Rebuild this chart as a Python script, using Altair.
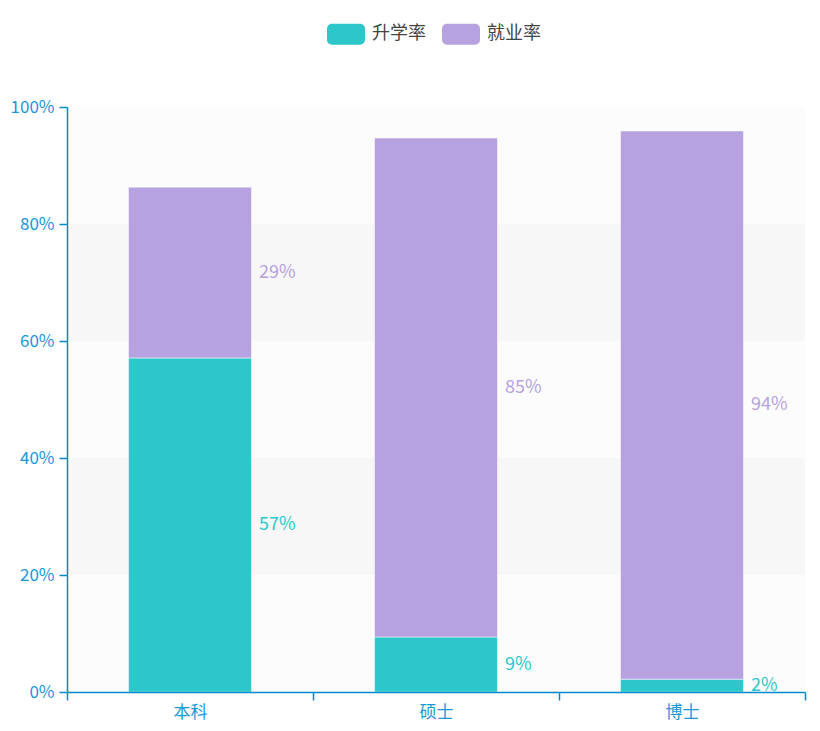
import altair as alt
import pandas as pd

categories = ["本科", "硕士", "博士"]
series = ["升学率", "就业率"]
further_study = [57.1, 9.4, 2.2]
employment = [29.2, 85.3, 93.7]
colors = ["#2ec7c9", "#b6a2de"]
band_starts = [0, 20, 40, 60, 80]
band_colors = ["#fcfcfc", "#f7f7f7", "#fcfcfc", "#f7f7f7", "#fcfcfc"]
y_ticks = [0, 20, 40, 60, 80, 100]

rows = []
for i, c in enumerate(categories):
    rows.append({"cat": c, "series": series[0], "value": further_study[i], "order": 0})
    rows.append({"cat": c, "series": series[1], "value": employment[i], "order": 1})
df = pd.DataFrame(rows)
bands = pd.DataFrame({"y0": band_starts, "y1": [b + 20 for b in band_starts], "col": band_colors})

FONT = "Noto Sans CJK SC"
AXIS = "#008acd"

yscale = alt.Scale(domain=[0, 100], nice=False)
xscale = alt.Scale(domain=categories, paddingInner=0, paddingOuter=0)
yaxis = alt.Axis(title=None, values=y_ticks, labelExpr="datum.value + '%'", grid=False, labelPadding=5,
                 domain=True, domainColor=AXIS, domainWidth=1.5, domainOpacity=1, zindex=2)

bg = alt.Chart(bands).mark_rect().encode(
    y=alt.Y("y0:Q", scale=yscale, axis=yaxis),
    y2="y1:Q",
    x=alt.value(0),
    x2=alt.value(738),
    color=alt.Color("col:N", scale=None, legend=None),
)

base = alt.Chart(df).transform_stack(
    stack="value", groupby=["cat"], as_=["s0", "s1"], sort=[alt.SortField("order")]
).transform_calculate(mid="(datum.s0 + datum.s1) / 2", label="format(datum.value, '.0f') + '%'")

bars = base.mark_bar(size=123, strokeWidth=1, strokeOpacity=0.5, stroke="white").encode(
    x=alt.X("cat:N", scale=xscale, sort=categories,
            axis=alt.Axis(title=None, labelAngle=0, tickBand="extent", labelPadding=4, zindex=2)),
    y=alt.Y("s0:Q", scale=yscale, axis=yaxis),
    y2="s1:Q",
    color=alt.Color("series:N", scale=alt.Scale(domain=series, range=colors),
                    legend=alt.Legend(title=None, orient="none", direction="horizontal",
                                      legendX=260, legendY=-92,
                                      symbolType="M-0.74,-0.55 L0.74,-0.55 A0.26,0.26 0 0 1 1,-0.29 L1,0.29 A0.26,0.26 0 0 1 0.74,0.55 L-0.74,0.55 A0.26,0.26 0 0 1 -1,0.29 L-1,-0.29 A0.26,0.26 0 0 1 -0.74,-0.55 Z",
                                      symbolSize=1444, symbolStrokeWidth=0, symbolOpacity=1,
                                      labelFont=FONT, labelFontSize=18, labelColor="#444",
                                      columnPadding=15, labelOffset=7)),
    order=alt.Order("order:Q"),
)

labels = base.mark_text(align="left", baseline="middle", dx=69, font=FONT, fontSize=18).encode(
    x=alt.X("cat:N", scale=xscale, sort=categories),
    y=alt.Y("mid:Q", scale=yscale),
    text="label:N",
    color=alt.Color("series:N", scale=alt.Scale(domain=series, range=colors), legend=None),
)

chart = alt.layer(bg, bars, labels).resolve_scale(color="independent").properties(
    width=738, height=585, padding={"left": 2, "top": 7, "right": 5, "bottom": 5}
).configure_view(stroke=None).configure_axis(
    domainColor=AXIS, tickColor=AXIS, labelColor="#1a96d8", labelFont=FONT, labelFontSize=17,
    tickSize=8, domainWidth=1.5, tickWidth=1.5
)

chart.save("out.html", embed_options={"renderer": "svg", "actions": False})
